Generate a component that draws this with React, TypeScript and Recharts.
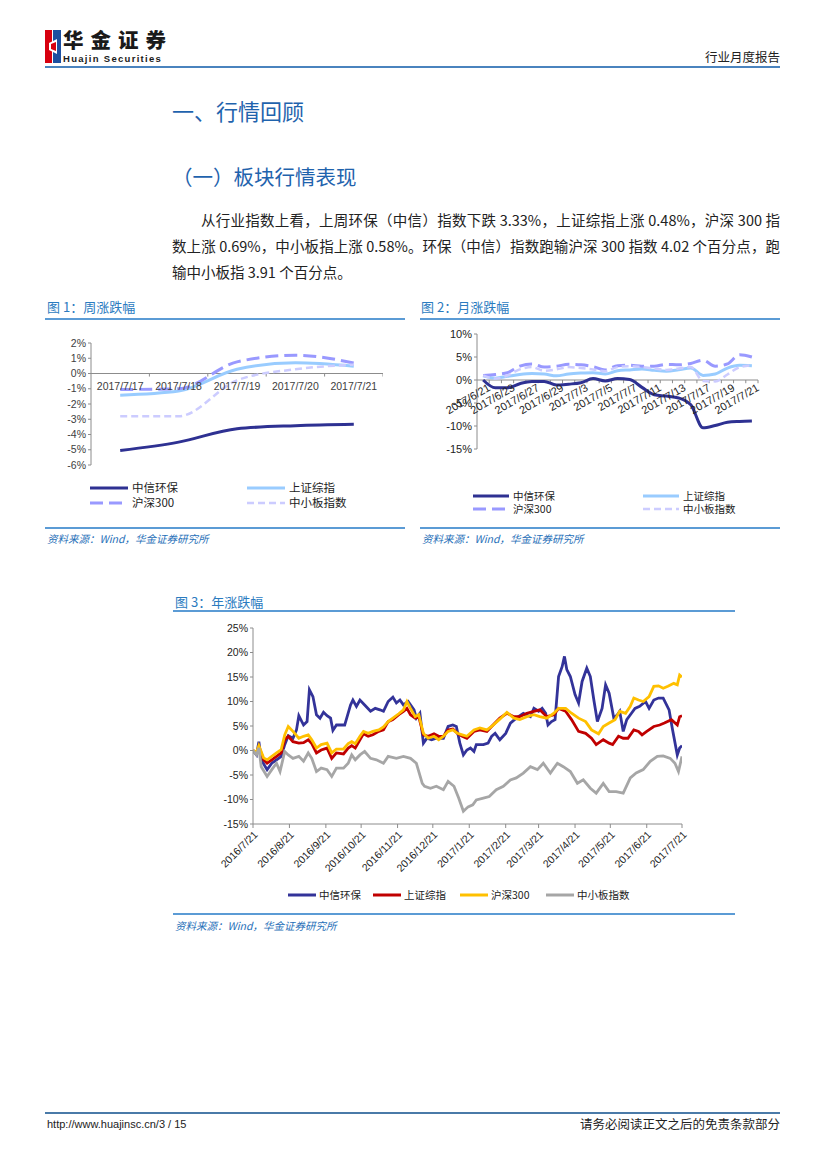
import React from 'react';
import { LineChart, Line, XAxis, YAxis, ReferenceLine, LabelList } from 'recharts';

const SANS = "'Liberation Sans', Arial, 'Noto Sans CJK SC', sans-serif";
const CJK = "'Noto Sans CJK SC', 'Liberation Sans', sans-serif";
const TITLE_BLUE = '#2b7bbf';
const RULE_BLUE = '#5b9bd5';
const AXIS = '#8c8c8c';
const TICK_TXT = '#404040';

const seriesNames = ['中信环保', '上证综指', '沪深300', '中小板指数'];

// ---------- 图1：周涨跌幅 ----------
const weekDates = ['2017/7/17', '2017/7/18', '2017/7/19', '2017/7/20', '2017/7/21'];
const weekHuanbao = [-5.05, -4.5, -3.62, -3.42, -3.33];
const weekShangzheng = [-1.42, -1.15, 0.28, 0.7, 0.48];
const weekHs300 = [-1.05, -1.0, 0.76, 1.2, 0.69];
const weekZxb = [-2.8, -2.8, -0.45, 0.28, 0.58];
const weekYTicks = [-6, -5, -4, -3, -2, -1, 0, 1, 2];
const weekTickMarks = [0.5, 1.5, 2.5, 3.5, 4.5];

// ---------- 图2：月涨跌幅 ----------
const monthDates = ['2017/6/21', '2017/6/22', '2017/6/23', '2017/6/26', '2017/6/27', '2017/6/28', '2017/6/29', '2017/6/30', '2017/7/3', '2017/7/4', '2017/7/5', '2017/7/6', '2017/7/7', '2017/7/10', '2017/7/11', '2017/7/12', '2017/7/13', '2017/7/14', '2017/7/17', '2017/7/18', '2017/7/19', '2017/7/20', '2017/7/21'];
const monthHuanbao = [0, -1.7, -1.7, -0.8, -0.3, -0.3, -1.1, -0.9, -0.6, 0.3, -0.2, 0.3, 0.1, -1.6, -3.2, -3.5, -3.9, -5.4, -10.4, -9.9, -9.2, -9.0, -8.9];
const monthShangzheng = [0.9, 0.4, 0.8, 1.2, 1.4, 1.3, 0.9, 1.3, 1.5, 1.6, 1.3, 2.0, 2.2, 2.4, 2.1, 1.9, 2.2, 2.6, 1.0, 1.3, 2.6, 3.2, 3.1];
const monthHs300 = [1.0, 1.2, 1.6, 3.0, 3.5, 2.8, 3.0, 3.4, 3.3, 2.9, 2.2, 3.1, 3.2, 3.0, 3.0, 3.4, 3.3, 3.6, 4.3, 3.0, 3.5, 5.5, 5.0];
const monthZxb = [1.0, 0.3, 1.0, 2.3, 2.8, 2.0, 2.3, 2.8, 2.6, 2.3, 1.9, 2.8, 3.0, 2.8, 2.5, 2.2, 2.5, 2.8, -0.2, -0.3, 1.2, 2.8, 3.2];
const monthYTicks = [-15, -10, -5, 0, 5, 10];
const monthTickMarks = [0.5, 1.5, 2.5, 3.5, 4.5, 5.5, 6.5, 7.5, 8.5, 9.5, 10.5, 11.5, 12.5, 13.5, 14.5, 15.5, 16.5, 17.5, 18.5, 19.5, 20.5, 21.5, 22.5];

// ---------- 图3：年涨跌幅 (x = days since 2016/7/21) ----------
const yearTickDays = [0, 31, 62, 92, 123, 153, 184, 215, 243, 274, 304, 335, 365];
const yearTickLabels = ['2016/7/21', '2016/8/21', '2016/9/21', '2016/10/21', '2016/11/21', '2016/12/21', '2017/1/21', '2017/2/21', '2017/3/21', '2017/4/21', '2017/5/21', '2017/6/21', '2017/7/21'];
const yearYTicks = [-15, -10, -5, 0, 5, 10, 15, 20, 25];

const yearHuanbaoDays = [0, 3, 5, 7, 12, 16, 20, 24, 27, 30, 34, 37, 39, 43, 46, 48, 51, 54, 57, 60, 63, 66, 68, 71, 76, 78, 83, 85, 88, 91, 95, 100, 104, 108, 111, 115, 119, 122, 125, 128, 132, 137, 139, 142, 145, 148, 152, 156, 162, 166, 170, 173, 176, 179, 182, 185, 188, 190, 196, 200, 203, 206, 210, 215, 219, 224, 230, 236, 239, 243, 246, 249, 251, 254, 257, 260, 263, 265, 267, 270, 274, 277, 280, 284, 287, 290, 293, 297, 300, 303, 307, 310, 312, 315, 318, 322, 325, 329, 334, 337, 341, 345, 349, 354, 357, 361, 363, 365];
const yearHuanbaoVals = [0, -0.9, 1.8, -1.9, -3.9, -2.6, -1.9, -1.2, 1.2, 3.0, 2.5, 4.2, 7.1, 5.2, 5.9, 12.4, 11.0, 7.3, 6.6, 7.8, 7.1, 6.6, 4.1, 5.2, 5.2, 5.2, 9.3, 10.3, 9.0, 10.3, 9.3, 8.0, 8.6, 8.3, 8.0, 10.0, 10.9, 9.7, 10.3, 9.3, 10.0, 8.3, 6.6, 7.6, 1.5, 2.5, 2.2, 2.5, 2.5, 4.9, 5.2, 4.9, 1.5, -0.9, 0.1, 0.5, -0.2, 1.2, 1.2, 1.5, 2.9, 3.5, 2.2, 3.5, 5.6, 6.6, 7.6, 6.9, 8.6, 8.0, 8.6, 7.6, 5.2, 5.9, 6.3, 15.1, 17.1, 19.2, 16.5, 15.1, 11.4, 9.7, 14.1, 16.8, 15.1, 10.3, 5.9, 8.6, 13.4, 11.7, 6.6, 7.3, 8.0, 3.9, 6.3, 7.6, 8.6, 9.0, 10.0, 8.6, 10.3, 10.7, 10.7, 8.3, 4.2, -0.9, 0.5, 1.0];

const yearShangzhengDays = [0, 3, 5, 9, 12, 16, 20, 24, 27, 30, 34, 39, 43, 47, 50, 54, 58, 63, 67, 71, 77, 81, 84, 87, 91, 94, 98, 102, 107, 111, 115, 119, 124, 128, 131, 134, 138, 141, 145, 149, 154, 158, 162, 166, 170, 174, 178, 182, 188, 193, 199, 203, 210, 216, 222, 227, 233, 239, 244, 250, 256, 260, 266, 271, 277, 283, 288, 292, 298, 303, 306, 311, 315, 319, 324, 328, 331, 335, 341, 346, 350, 356, 361, 363, 365];
const yearShangzhengVals = [0, -0.5, 0.8, -1.9, -2.6, -1.9, -1.2, -0.5, 2.2, 2.9, 1.8, 1.5, 1.6, 2.2, 1.4, -0.5, 0.1, 0.5, -1.6, -0.5, -0.7, 0.5, 1.0, 0.5, 2.2, 3.4, 2.9, 3.2, 3.9, 4.2, 5.9, 6.3, 7.3, 8.0, 8.6, 7.3, 6.6, 6.9, 3.2, 2.9, 3.4, 2.9, 2.9, 4.2, 4.4, 3.5, 2.9, 2.5, 3.9, 4.2, 3.9, 4.9, 6.6, 7.6, 6.9, 6.9, 7.6, 8.0, 8.3, 6.9, 7.3, 8.6, 8.0, 6.3, 3.9, 3.5, 2.5, 1.2, 2.2, 1.5, 1.2, 2.9, 2.5, 2.5, 4.2, 3.9, 3.2, 3.9, 4.9, 5.2, 5.6, 6.3, 5.2, 6.9, 7.1];

const yearHs300Days = [0, 3, 5, 9, 12, 16, 20, 24, 27, 30, 34, 39, 43, 47, 50, 54, 58, 63, 67, 71, 77, 81, 84, 87, 91, 94, 98, 102, 107, 111, 115, 119, 124, 128, 131, 134, 138, 141, 145, 149, 154, 158, 162, 166, 170, 174, 178, 182, 188, 193, 199, 203, 210, 216, 222, 227, 233, 239, 244, 250, 256, 260, 266, 271, 277, 283, 288, 294, 298, 303, 308, 312, 317, 321, 324, 328, 332, 337, 341, 345, 349, 353, 358, 361, 363, 365];
const yearHs300Vals = [0, -0.3, 1.0, -1.5, -1.9, -1.2, -0.5, 0.2, 3.2, 4.9, 3.9, 2.5, 2.9, 3.2, 2.2, 0.5, 1.2, 1.5, -0.5, 0.3, 0.3, 1.4, 1.8, 1.4, 2.9, 3.9, 3.5, 3.9, 4.2, 4.8, 5.9, 6.6, 7.5, 8.3, 10.0, 8.6, 6.9, 7.3, 3.5, 2.5, 2.9, 2.2, 2.9, 3.9, 4.2, 3.5, 3.2, 2.9, 4.2, 4.6, 4.2, 4.9, 6.4, 7.8, 6.6, 6.3, 6.9, 7.3, 6.9, 6.6, 7.6, 8.6, 8.6, 7.6, 6.6, 5.9, 4.2, 3.4, 4.9, 5.6, 6.3, 8.0, 7.6, 9.0, 10.7, 10.3, 10.0, 11.0, 13.1, 13.2, 12.7, 13.1, 13.7, 13.4, 15.4, 15.0];

const yearZxbDays = [0, 3, 5, 7, 12, 16, 20, 23, 27, 30, 34, 39, 43, 47, 50, 54, 58, 63, 67, 71, 77, 81, 84, 87, 91, 95, 100, 105, 111, 115, 122, 128, 134, 139, 144, 146, 151, 156, 162, 166, 171, 175, 179, 183, 187, 190, 196, 201, 207, 213, 219, 224, 230, 236, 242, 247, 253, 259, 264, 270, 276, 281, 287, 292, 298, 303, 309, 315, 321, 326, 332, 338, 344, 349, 355, 359, 362, 365];
const yearZxbVals = [0, -0.9, 0.5, -3.3, -5.3, -3.9, -2.6, -4.3, -0.2, -0.9, -1.6, -1.2, -2.2, -0.5, -1.6, -4.3, -3.6, -3.9, -5.3, -3.6, -3.6, -2.6, -0.9, -1.9, -0.9, -0.2, -1.6, -1.9, -2.6, -1.2, -1.6, -1.2, -1.6, -2.6, -6.7, -7.3, -7.7, -7.3, -8.0, -6.3, -7.3, -9.7, -12.4, -11.5, -11.1, -10.1, -9.7, -9.4, -8.0, -7.3, -6.0, -5.6, -4.6, -3.3, -3.9, -2.6, -4.6, -2.6, -3.3, -4.3, -6.7, -6.0, -7.7, -8.7, -6.7, -8.4, -8.4, -8.7, -5.6, -4.6, -3.9, -2.2, -1.2, -1.1, -1.6, -2.6, -4.3, -1.2];

// ---------- styles ----------
const smallStyles = [
  { color: '#2e3192', width: 3, dash: undefined as string | undefined },
  { color: '#99ccff', width: 3, dash: undefined as string | undefined },
  { color: '#9999ff', width: 3, dash: '13 6' },
  { color: '#ccccff', width: 2.5, dash: '7 4' },
];
const yearStyles = ['#333399', '#c00000', '#ffc000', '#a6a6a6'];

const pct = (v: number) => `${v}%`;

const weekRows = weekDates.map((lab, i) => ({
  x: i, zero: 0, lab,
  s0: weekHuanbao[i], s1: weekShangzheng[i], s2: weekHs300[i], s3: weekZxb[i],
}));
const monthRows = monthDates.map((d, i) => ({
  x: i, zero: 0, lab: i % 2 === 0 ? d : '',
  s0: monthHuanbao[i], s1: monthShangzheng[i], s2: monthHs300[i], s3: monthZxb[i],
}));
const toRows = (days: number[], vals: number[]) => days.map((d, i) => ({ d, v: vals[i] }));
const yearSeries = [
  toRows(yearHuanbaoDays, yearHuanbaoVals),
  toRows(yearShangzhengDays, yearShangzhengVals),
  toRows(yearHs300Days, yearHs300Vals),
  toRows(yearZxbDays, yearZxbVals),
];

const pickXY = (p: any) => {
  const vb = p.viewBox || {};
  const x = vb.x ?? p.x;
  const y = vb.y ?? p.y;
  return { x, y };
};

const makeFlatLabel = (labels: string[]) => (p: any) => {
  const { x, y } = pickXY(p);
  const t = typeof p.value === 'string' ? p.value : labels[p.index];
  if (!t || x == null || y == null) return null;
  return (
    <text x={x} y={y + 12} textAnchor="middle" dominantBaseline="central" fontSize={10.5} fill={TICK_TXT} fontFamily={SANS}>
      {t}
    </text>
  );
};

const makeRotLabel = (labels: string[]) => (p: any) => {
  const { x, y } = pickXY(p);
  const t = typeof p.value === 'string' ? p.value : labels[p.index];
  if (!t || x == null || y == null) return null;
  const ax = x + 4;
  const ay = y + 3;
  return (
    <text x={ax} y={ay} textAnchor="end" dominantBaseline="hanging" fontSize={11} fill="#222" fontFamily={SANS} transform={`rotate(-30, ${ax}, ${ay})`}>
      {t}
    </text>
  );
};

const Abs: React.FC<{ x: number; y: number; style?: React.CSSProperties; children?: React.ReactNode }> = ({ x, y, style, children }) => (
  <div style={{ position: 'absolute', left: x, top: y, whiteSpace: 'nowrap', ...style }}>{children}</div>
);

const Rule: React.FC<{ x: number; y: number; w: number; h?: number; color?: string }> = ({ x, y, w, h = 1.5, color = RULE_BLUE }) => (
  <div style={{ position: 'absolute', left: x, top: y, width: w, height: h, background: color }} />
);

const Swatch: React.FC<{ color: string; width: number; dash?: string; len: number }> = ({ color, width, dash, len }) => (
  <svg width={len} height={8} style={{ display: 'block' }}>
    <line x1={0} y1={4} x2={len} y2={4} stroke={color} strokeWidth={width} strokeDasharray={dash} />
  </svg>
);

const LegendItem: React.FC<{ x: number; y: number; len: number; name: string; color: string; width: number; dash?: string; fontSize: number; gap: number }> = ({ x, y, len, name, color, width, dash, fontSize, gap }) => (
  <>
    <Abs x={x} y={y - 4}><Swatch color={color} width={width} dash={dash} len={len} /></Abs>
    <Abs x={x + len + gap} y={y - fontSize / 2 - 1} style={{ fontSize, lineHeight: `${fontSize + 2}px`, fontFamily: CJK, color: '#222' }}>{name}</Abs>
  </>
);

const Source: React.FC<{ x: number; y: number }> = ({ x, y }) => (
  <Abs x={x} y={y} style={{ fontSize: 10.5, lineHeight: '12px', fontFamily: CJK, fontStyle: 'italic', color: '#1f6fb8' }}>
    资料来源：Wind，华金证券研究所
  </Abs>
);

const FigTitle: React.FC<{ x: number; y: number; text: string }> = ({ x, y, text }) => (
  <Abs x={x} y={y} style={{ fontSize: 13, lineHeight: '14px', fontFamily: CJK, color: TITLE_BLUE }}>{text}</Abs>
);

const WeekChart = () => (
  <LineChart width={337} height={132} data={weekRows} margin={{ top: 5, right: 0, bottom: 5, left: 0 }}>
    <XAxis dataKey="x" type="number" domain={[-0.5, 4.5]} hide />
    <YAxis domain={[-6, 2]} ticks={weekYTicks} interval={0} width={45} tickFormatter={pct}
      tick={{ fontSize: 10.5, fill: TICK_TXT, fontFamily: SANS }} axisLine={{ stroke: AXIS }} tickLine={{ stroke: AXIS }} tickSize={3} />
    <ReferenceLine y={0} stroke={AXIS} />
    {weekTickMarks.map((b) => (
      <ReferenceLine key={b} segment={[{ x: b, y: 0 }, { x: b, y: -0.2 }]} stroke={AXIS} />
    ))}
    <Line dataKey="zero" stroke="none" dot={false} activeDot={false} isAnimationActive={false} legendType="none">
      <LabelList dataKey="lab" content={makeFlatLabel(weekDates)} />
    </Line>
    {smallStyles.map((s, i) => (
      <Line key={i} dataKey={`s${i}`} name={seriesNames[i]} type="monotone" stroke={s.color} strokeWidth={s.width}
        strokeDasharray={s.dash} dot={false} activeDot={false} isAnimationActive={false} />
    ))}
  </LineChart>
);

const MonthChart = () => (
  <LineChart width={336} height={125} data={monthRows} margin={{ top: 5, right: 10, bottom: 5, left: 0 }}>
    <XAxis dataKey="x" type="number" domain={[-0.5, 22.5]} hide />
    <YAxis domain={[-15, 10]} ticks={monthYTicks} interval={0} width={45} tickFormatter={pct}
      tick={{ fontSize: 11, fill: '#222', fontFamily: SANS }} axisLine={{ stroke: AXIS }} tickLine={{ stroke: AXIS }} tickSize={3} />
    <ReferenceLine y={0} stroke={AXIS} />
    {monthTickMarks.map((b) => (
      <ReferenceLine key={b} segment={[{ x: b, y: 0 }, { x: b, y: -0.7 }]} stroke={AXIS} />
    ))}
    <Line dataKey="zero" stroke="none" dot={false} activeDot={false} isAnimationActive={false} legendType="none">
      <LabelList dataKey="lab" content={makeRotLabel(monthRows.map((r) => r.lab))} />
    </Line>
    {smallStyles.map((s, i) => (
      <Line key={i} dataKey={`s${i}`} name={seriesNames[i]} type="monotone" stroke={s.color} strokeWidth={s.width}
        strokeDasharray={s.dash} dot={false} activeDot={false} isAnimationActive={false} />
    ))}
  </LineChart>
);

const YearChart = () => (
  <LineChart width={484} height={261} margin={{ top: 10, right: 10, bottom: 0, left: 0 }}>
    <XAxis dataKey="d" type="number" domain={[0, 365]} ticks={yearTickDays} interval={0} allowDataOverflow
      tickFormatter={(v: number) => yearTickLabels[yearTickDays.indexOf(v)] ?? ''} angle={-45} textAnchor="end" height={55}
      tick={{ fontSize: 10.5, fill: '#222', fontFamily: SANS }} axisLine={{ stroke: AXIS }} tickLine={{ stroke: AXIS }} tickSize={4} />
    <YAxis domain={[-15, 25]} ticks={yearYTicks} interval={0} width={45} tickFormatter={pct}
      tick={{ fontSize: 10.5, fill: '#222', fontFamily: SANS }} axisLine={{ stroke: AXIS }} tickLine={{ stroke: AXIS }} tickSize={3} />
    {yearSeries.map((rows, i) => (
      <Line key={i} data={rows} dataKey="v" name={seriesNames[i]} type="linear" stroke={yearStyles[i]} strokeWidth={2.8}
        dot={false} activeDot={false} isAnimationActive={false} />
    ))}
  </LineChart>
);

const Logo = () => (
  <svg width={16} height={33} viewBox="0 0 16 33">
    <rect x={0} y={0} width={7} height={33} fill="#d7000f" />
    <rect x={8} y={0} width={8} height={33} fill="#1d4fa0" />
    <polygon points="4,13 12,9 12,24 4,20" fill="#fff" />
    <polygon points="6,14 11,12 11,21 6,19" fill="#d7000f" />
  </svg>
);

export default function App() {
  const legendCols1 = [90, 247];
  const legendRows1 = [488, 503];
  const legendCols2 = [473, 643];
  const legendRows2 = [496, 509];
  const legendX3 = [288, 373, 460, 546];
  return (
    <div style={{ position: 'absolute', left: 0, top: 0, width: 827, height: 1169, background: '#fff', overflow: 'hidden', fontFamily: CJK }}>
      {/* header */}
      <Abs x={45} y={30}><Logo /></Abs>
      <Abs x={63} y={29} style={{ fontSize: 20.5, lineHeight: '21px', fontWeight: 900, letterSpacing: 7, color: '#1a1a1a', fontFamily: CJK }}>华金证券</Abs>
      <Abs x={63} y={54} style={{ fontSize: 9.5, lineHeight: '9px', fontWeight: 700, letterSpacing: 1.3, color: '#1a1a1a', fontFamily: SANS }}>Huajin Securities</Abs>
      <Abs x={600} y={50} style={{ width: 180, textAlign: 'right', fontSize: 12.5, lineHeight: '14px', color: '#222', fontFamily: CJK }}>行业月度报告</Abs>
      <Rule x={45} y={66} w={735} h={2} color="#4a83be" />

      {/* headings */}
      <Abs x={172} y={98} style={{ fontSize: 22, lineHeight: '24px', color: '#1f63ad', fontFamily: CJK }}>一、行情回顾</Abs>
      <Abs x={172} y={165} style={{ fontSize: 20.5, lineHeight: '22px', color: '#1f63ad', fontFamily: CJK }}>（一）板块行情表现</Abs>

      {/* paragraph */}
      <Abs x={201} y={207} style={{ width: 579, fontSize: 14.5, lineHeight: '26px', color: '#222', textAlign: 'justify', textAlignLast: 'justify', whiteSpace: 'normal' }}>
        从行业指数上看，上周环保（中信）指数下跌 3.33%，上证综指上涨 0.48%，沪深 300 指
      </Abs>
      <Abs x={172} y={233} style={{ width: 608, fontSize: 14.5, lineHeight: '26px', color: '#222', textAlign: 'justify', textAlignLast: 'justify', whiteSpace: 'normal' }}>
        数上涨 0.69%，中小板指上涨 0.58%。环保（中信）指数跑输沪深 300 指数 4.02 个百分点，跑
      </Abs>
      <Abs x={172} y={259} style={{ fontSize: 14.5, lineHeight: '26px', color: '#222' }}>
        输中小板指 3.91 个百分点。
      </Abs>

      {/* figure 1 */}
      <FigTitle x={47} y={300} text="图 1：周涨跌幅" />
      <Rule x={45} y={318} w={360} />
      <Abs x={46} y={338}><WeekChart /></Abs>
      {smallStyles.map((s, i) => (
        <LegendItem key={i} x={legendCols1[i % 2]} y={legendRows1[Math.floor(i / 2)]} len={38} gap={4}
          name={seriesNames[i]} color={s.color} width={s.width} dash={s.dash} fontSize={11.5} />
      ))}
      <Rule x={45} y={527} w={360} />
      <Source x={47} y={533} />

      {/* figure 2 */}
      <FigTitle x={421} y={300} text="图 2：月涨跌幅" />
      <Rule x={420} y={318} w={360} />
      <Abs x={432} y={329}><MonthChart /></Abs>
      {smallStyles.map((s, i) => (
        <LegendItem key={i} x={legendCols2[i % 2]} y={legendRows2[Math.floor(i / 2)]} len={36} gap={4}
          name={seriesNames[i]} color={s.color} width={s.width} dash={s.dash} fontSize={10.5} />
      ))}
      <Rule x={420} y={527} w={360} />
      <Source x={422} y={533} />

      {/* figure 3 */}
      <FigTitle x={175} y={595} text="图 3：年涨跌幅" />
      <Rule x={173} y={610} w={562} />
      <Abs x={208} y={618}><YearChart /></Abs>
      {yearStyles.map((c, i) => (
        <LegendItem key={i} x={legendX3[i]} y={895} len={28} gap={3}
          name={seriesNames[i]} color={c} width={3} fontSize={10.5} />
      ))}
      <Rule x={173} y={913} w={562} />
      <Source x={175} y={920} />

      {/* footer */}
      <Rule x={45} y={1112} w={735} h={2} color="#4a7aa8" />
      <Abs x={47} y={1117} style={{ fontSize: 11, lineHeight: '14px', color: '#222', fontFamily: "'Liberation Sans Narrow', 'Liberation Sans', Arial, sans-serif" }}>http://www.huajinsc.cn/3 / 15</Abs>
      <Abs x={500} y={1117} style={{ width: 280, textAlign: 'right', fontSize: 12.5, lineHeight: '14px', color: '#222', fontFamily: CJK }}>请务必阅读正文之后的免责条款部分</Abs>
    </div>
  );
}
